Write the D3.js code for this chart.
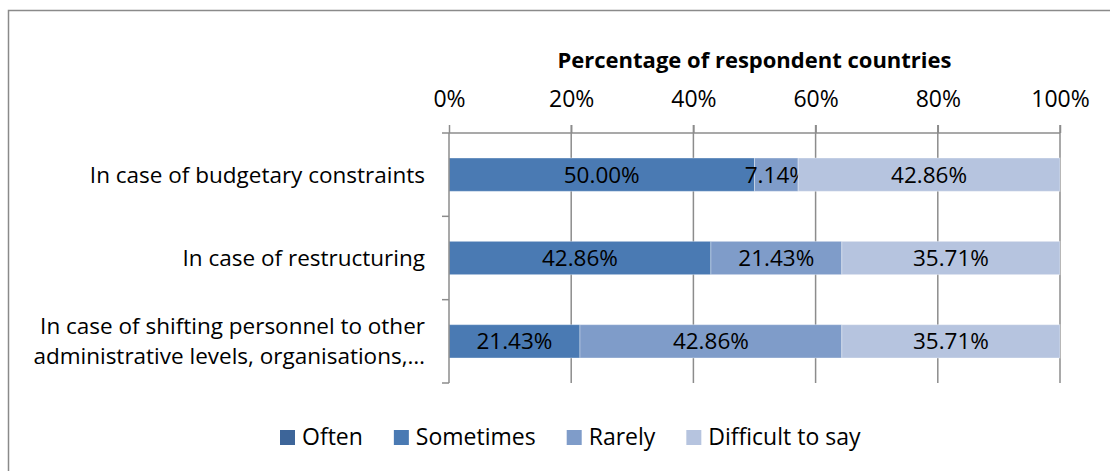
<!DOCTYPE html>
<html lang="en">
<head>
<meta charset="UTF-8">
<script src="https://d3js.org/d3.v7.min.js"></script>
<style>
  body { margin: 0; background: #fff; }
  svg text { fill: #000; }
</style>
</head>
<body>
<script>
// chart data
const categories = [
  ["In case of budgetary constraints"],
  ["In case of restructuring"],
  ["In case of shifting personnel to other", "administrative levels, organisations,\u2026"]
];
const seriesNames = ["Often", "Sometimes", "Rarely", "Difficult to say"];
const often = [0, 0, 0];
const sometimes = [50.00, 42.86, 21.43];
const rarely = [7.14, 21.43, 42.86];
const difficult = [42.86, 35.71, 35.71];
const xTicks = [0, 20, 40, 60, 80, 100];
const colors = ["#3d6599", "#4a7ab3", "#7f9cc9", "#b6c4df"];

const w = 1110, h = 471;
const plotL = 449, plotR = 1060, plotT = 133, plotB = 383;
const font = "'Open Sans', sans-serif";

const svg = d3.select("body").append("svg")
  .attr("width", w)
  .attr("height", h);

// outer chart border
svg.append("rect")
  .attr("x", 8.5).attr("y", 10.5)
  .attr("width", 1200).attr("height", 600)
  .attr("fill", "none")
  .attr("stroke", "#8a8a8a")
  .attr("stroke-width", 1.5);

const x = d3.scaleLinear().domain([0, 100]).range([plotL, plotR]);
const y = d3.scaleBand().domain(d3.range(categories.length)).range([plotT, plotB]).paddingInner(0.6).paddingOuter(0.3);

// gridlines
svg.append("g").selectAll("line")
  .data(xTicks.slice(1))
  .join("line")
  .attr("x1", d => x(d)).attr("x2", d => x(d))
  .attr("y1", plotT - 8).attr("y2", plotB)
  .attr("stroke", "#8c8c8c")
  .attr("stroke-width", 1.5);

// top axis
const xAxis = svg.append("g")
  .attr("transform", `translate(0,${plotT})`)
  .call(d3.axisTop(x).tickValues(xTicks).tickSize(8).tickFormat(d => d + "%"));
xAxis.select(".domain").attr("stroke", "#8c8c8c").attr("stroke-width", 1.5).attr("d", `M${plotL},0H${plotR}`);
xAxis.selectAll(".tick line").attr("stroke", "#8c8c8c").attr("stroke-width", 1.5);
xAxis.selectAll(".tick text")
  .attr("y", -26)
  .attr("dy", 0)
  .style("font-family", font)
  .style("font-size", "23px")
  .attr("fill", "#000");

// title
svg.append("text")
  .attr("x", (plotL + plotR) / 2)
  .attr("y", 68)
  .attr("text-anchor", "middle")
  .style("font-family", font)
  .style("font-weight", "bold")
  .style("font-size", "22px")
  .text("Percentage of respondent countries");

// stacked data
const table = categories.map((c, i) => ({
  "Often": often[i], "Sometimes": sometimes[i], "Rarely": rarely[i], "Difficult to say": difficult[i]
}));
const stacked = d3.stack().keys(seriesNames)(table);

const bars = svg.append("g");
stacked.forEach((s, si) => {
  s.forEach((d, i) => {
    if (d[1] - d[0] <= 0) return;
    bars.append("rect")
      .attr("x", x(d[0]))
      .attr("y", y(i))
      .attr("width", x(d[1]) - x(d[0]))
      .attr("height", y.bandwidth())
      .attr("fill", colors[si])
      .attr("stroke", "rgba(255,255,255,0.35)")
      .attr("stroke-width", 1);
    bars.append("text")
      .attr("x", (x(d[0]) + x(d[1])) / 2)
      .attr("y", y(i) + y.bandwidth() / 2)
      .attr("dy", "0.36em")
      .attr("text-anchor", "middle")
      .style("font-family", font)
      .style("font-size", "22.5px")
      .text((d[1] - d[0]).toFixed(2) + "%");
  });
});

// left axis
svg.append("line")
  .attr("x1", plotL).attr("x2", plotL)
  .attr("y1", plotT).attr("y2", plotB)
  .attr("stroke", "#8c8c8c").attr("stroke-width", 1.5);
const yTicks = d3.range(categories.length + 1).map(i => plotT + i * (plotB - plotT) / categories.length);
svg.append("g").selectAll("line")
  .data(yTicks)
  .join("line")
  .attr("x1", plotL - 7).attr("x2", plotL)
  .attr("y1", d => d).attr("y2", d => d)
  .attr("stroke", "#8c8c8c").attr("stroke-width", 1.5);

// category labels
categories.forEach((lines, i) => {
  const cy = y(i) + y.bandwidth() / 2;
  const t = svg.append("text")
    .attr("text-anchor", "end")
    .style("font-family", font)
    .style("font-size", "22.5px");
  lines.forEach((ln, j) => {
    t.append("tspan")
      .attr("x", 425)
      .attr("y", cy + (j - (lines.length - 1) / 2) * 30)
      .attr("dy", "0.36em")
      .text(ln);
  });
});

// legend
const legend = svg.append("g");
let lx = 280;
seriesNames.forEach((name, i) => {
  legend.append("rect")
    .attr("x", lx).attr("y", 430)
    .attr("width", 15).attr("height", 15)
    .attr("fill", colors[i]);
  const t = legend.append("text")
    .attr("x", lx + 22)
    .attr("y", 445)
    .style("font-family", font)
    .style("font-size", "23px")
    .text(name);
  lx += 22 + t.node().getComputedTextLength() + 31;
});
</script>
</body>
</html>
